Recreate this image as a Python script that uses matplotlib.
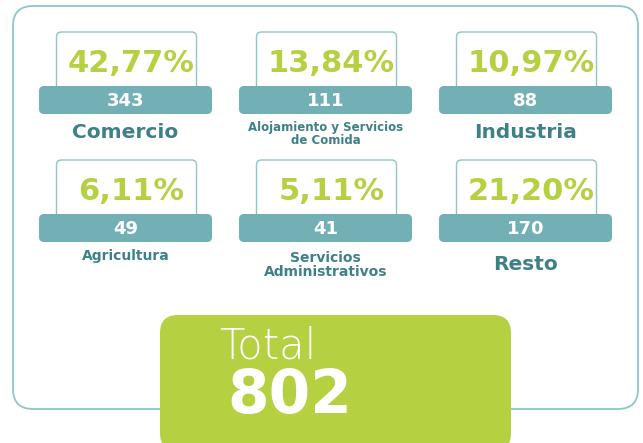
import matplotlib.pyplot as plt
from matplotlib.patches import FancyBboxPatch

# data
sectors = ['Comercio', 'Alojamiento y Servicios\nde Comida', 'Industria',
           'Agricultura', 'Servicios\nAdministrativos', 'Resto']
percents = [42.77, 13.84, 10.97, 6.11, 5.11, 21.20]
counts = [343, 111, 88, 49, 41, 170]
total = 802

# styles
GREEN = '#b5d141'
TEAL = '#72b0b6'
DARK_TEAL = '#3f8088'
LINE = '#8ec6ca'
FONT = 'DejaVu Sans'
label_sizes = [14.5, 8.5, 14.5, 10, 10, 14.5]
label_offsets = [18, 20, 18, 14, 23, 22]

W, H = 643, 443
fig = plt.figure(figsize=(W / 100, H / 100), dpi=100)
ax = fig.add_axes([0, 0, 1, 1])
ax.set_xlim(0, W)
ax.set_ylim(H, 0)
ax.axis('off')

# outer frame
ax.add_patch(FancyBboxPatch((13, 6), 625, 403, boxstyle='round,pad=0,rounding_size=20',
                            fc='white', ec=LINE, lw=1.3, zorder=1))

for i, (name, pct, cnt) in enumerate(zip(sectors, percents, counts)):
    cx = 125.5 + 200 * (i % 3)
    top = 32 if i < 3 else 160
    bar_top = top + 54
    # white card
    ax.add_patch(FancyBboxPatch((cx - 69, top), 140, 60, boxstyle='round,pad=0,rounding_size=5',
                                fc='white', ec=LINE, lw=1.0, zorder=2))
    # teal bar
    ax.add_patch(FancyBboxPatch((cx - 86.5, bar_top), 173, 28, boxstyle='round,pad=0,rounding_size=5',
                                fc=TEAL, ec='none', zorder=3))
    ax.text(cx + 6, top + 31, f'{pct:.2f}%'.replace('.', ','), ha='center', va='center',
            fontsize=22, fontweight='bold', color=GREEN, family=FONT, zorder=4)
    ax.text(cx, bar_top + 14.5, str(cnt), ha='center', va='center',
            fontsize=13, fontweight='bold', color='white', family=FONT, zorder=4)
    ax.text(cx, bar_top + 28 + label_offsets[i], name, ha='center', va='center',
            fontsize=label_sizes[i], fontweight='bold', color=DARK_TEAL, family=FONT,
            linespacing=0.95, zorder=4)

# total box
ax.add_patch(FancyBboxPatch((160, 315), 351, 136, boxstyle='round,pad=0,rounding_size=18',
                            fc=GREEN, ec='none', zorder=5))
ax.text(219, 346, 'Total', ha='left', va='center', fontsize=30, fontweight='light',
        color='white', family=FONT, zorder=6)
ax.text(227, 397, str(total), ha='left', va='center', fontsize=43, fontweight='bold',
        color='white', family=FONT, zorder=6)

fig.savefig('out.png', dpi=100)
